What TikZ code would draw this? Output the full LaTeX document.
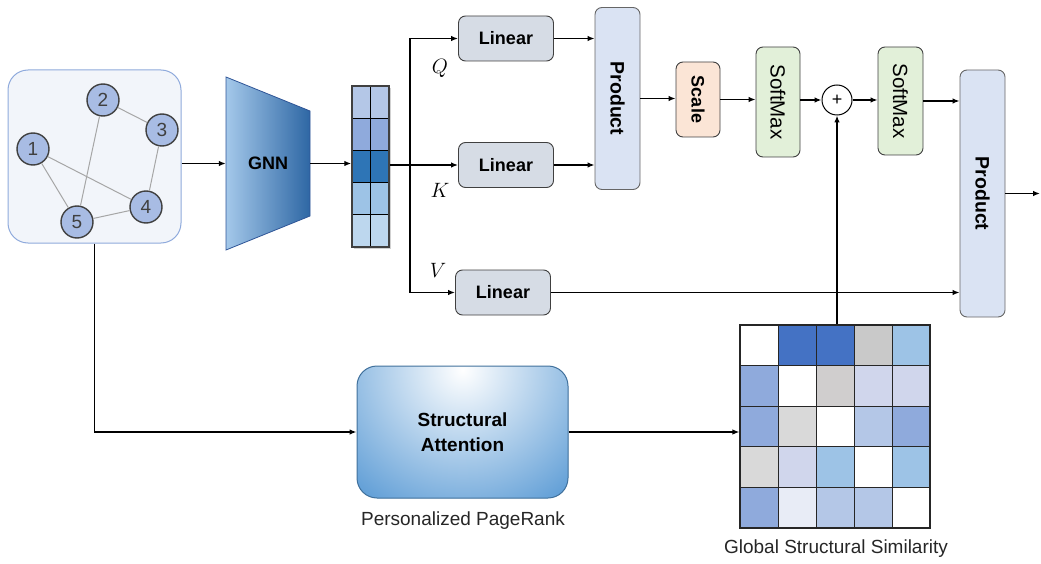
\documentclass[tikz,border=0pt]{standalone}
\usepackage{fontspec}
\setmainfont{Liberation Sans}
\usetikzlibrary{arrows.meta}

\definecolor{panelfill}{HTML}{F2F5FA}
\definecolor{panelline}{HTML}{8FAADC}
\definecolor{vertexfill}{HTML}{A8BCE4}
\definecolor{vertexline}{HTML}{404040}
\definecolor{edgegray}{HTML}{A6A6A6}
\definecolor{gnnleft}{HTML}{A4C8EA}
\definecolor{gnnright}{HTML}{2E67A4}
\definecolor{gnnline}{HTML}{2F5597}
\definecolor{boxline}{HTML}{404040}
\definecolor{linfill}{HTML}{D6DCE5}
\definecolor{prodfill}{HTML}{DAE3F3}
\definecolor{scalefill}{HTML}{FBE5D6}
\definecolor{smfill}{HTML}{E2F0D9}
\definecolor{sablue}{HTML}{5B9BD5}
\definecolor{saline}{HTML}{41719C}
\definecolor{captext}{HTML}{262626}
\definecolor{fA}{HTML}{B4C7E7}
\definecolor{fB}{HTML}{8FAADC}
\definecolor{fC}{HTML}{2E75B6}
\definecolor{fD}{HTML}{9DC3E6}
\definecolor{fE}{HTML}{BDD7EE}
\definecolor{mblue}{HTML}{4472C4}
\definecolor{mgray}{HTML}{C9C9C9}
\definecolor{msky}{HTML}{9DC3E6}
\definecolor{mpale}{HTML}{8FAADC}
\definecolor{mgrayb}{HTML}{D0CECE}
\definecolor{mgrayc}{HTML}{D9D9D9}
\definecolor{mlav}{HTML}{D0D6EC}
\definecolor{mlight}{HTML}{B4C7E7}
\definecolor{mwhite}{HTML}{E8ECF6}

\newcommand{\boxfont}{\fontsize{18}{21}\selectfont}

\begin{document}
\begin{tikzpicture}[x=1pt, y=-1pt,
    vertex/.style={circle, draw=vertexline, fill=vertexfill, line width=1.4pt, minimum size=32pt, inner sep=0pt, text=vertexline, font=\fontsize{19}{19}\selectfont},
    gedge/.style={draw=edgegray, line width=1pt},
    linbox/.style={draw=boxline, fill=linfill, rounded corners=7pt, line width=0.9pt, minimum width=95pt, minimum height=45pt, font=\boxfont\bfseries},
    tallbox/.style={draw=boxline, rounded corners=7pt, line width=0.9pt, minimum width=45pt, inner sep=0pt, font=\fontsize{19.5}{21}\selectfont},
    flow/.style={-{Latex[length=7pt, width=5.5pt]}, line width=1.3pt},
    undertext/.style={font=\fontsize{19}{21}\selectfont, text=captext}
]
\useasboundingbox (0,0) rectangle (1041,564);

% Input graph
\node[draw=panelline, fill=panelfill, rounded corners=20pt, line width=1pt, minimum width=173pt, minimum height=173pt] (panel) at (94.5,156.5) {};
\node[vertex] (n1) at (33,149) {1};
\node[vertex] (n2) at (103,100) {2};
\node[vertex] (n3) at (162,130) {3};
\node[vertex] (n4) at (146,207) {4};
\node[vertex] (n5) at (77,222) {5};
\draw[gedge] (n2) -- (n3);
\draw[gedge] (n2) -- (n5);
\draw[gedge] (n1) -- (n5);
\draw[gedge] (n1) -- (n4);
\draw[gedge] (n3) -- (n4);
\draw[gedge] (n4) -- (n5);

% GNN encoder
\shade[left color=gnnleft, right color=gnnright, draw=gnnline, line width=0.8pt] (226,77) -- (310,111) -- (310,216) -- (226,250) -- cycle;
\node[minimum width=84pt, minimum height=173pt, inner sep=0pt, font=\boxfont\bfseries] (gnn) at (268,163.5) {GNN};

% Node features
\fill[black!18] (353.5,88) rectangle (391,249);
\foreach \cc [count=\k from 0] in {fA,fB,fC,fD,fE}
  \fill[\cc] (352,86+32.2*\k) rectangle ++(37,32.2);
\foreach \k in {1,...,4}
  \draw[line width=0.8pt] (352,86+32.2*\k) -- ++(37,0);
\draw[line width=0.8pt] (370.5,86) -- (370.5,247);
\node[draw=boxline, line width=1.5pt, minimum width=37pt, minimum height=161pt, inner sep=0pt] (feat) at (370.5,166.5) {};

% Projections
\node[linbox] (linq) at (506,38.5) {Linear};
\node[linbox] (link) at (506,165) {Linear};
\node[linbox] (linv) at (503,292.5) {Linear};
\node[font=\fontsize{21}{21}\selectfont] (lq) at (440,68) {$Q$};
\node[font=\fontsize{21}{21}\selectfont] (lk) at (440,190) {$K$};
\node[font=\fontsize{21}{21}\selectfont] (lv) at (438,270) {$V$};

% Attention
\node[tallbox, fill=prodfill, draw=boxline!80, minimum height=182pt] (prod1) at (617.5,98.5) {\rotatebox{-90}{\bfseries Product}};
\node[tallbox, fill=scalefill, minimum width=44pt, minimum height=75pt, font=\boxfont] (scale) at (698,99.5) {\rotatebox{-90}{\bfseries Scale}};
\node[tallbox, fill=smfill, minimum width=44pt, minimum height=110pt, font=\fontsize{20.5}{21}\selectfont] (sm1) at (778,102) {\rotatebox{-90}{SoftMax}};
\node[circle, draw, line width=1pt, fill=white, minimum size=30pt, inner sep=0pt, font=\fontsize{18}{18}\selectfont] (plus) at (837,100) {+};
\node[tallbox, fill=smfill, minimum height=108pt, font=\fontsize{20.5}{21}\selectfont] (sm2) at (900.5,101) {\rotatebox{-90}{SoftMax}};
\node[tallbox, fill=prodfill, draw=boxline!80, minimum height=247pt] (prod2) at (982.5,193.5) {\rotatebox{-90}{\bfseries Product}};

% Structural branch
\node[draw=saline, line width=1pt, rounded corners=20pt, fill=sablue, minimum width=211pt, minimum height=132pt, align=center, font=\fontsize{19}{25}\selectfont\bfseries,
  path picture={\shade[inner color=white, outer color=sablue] ([yshift=-4pt]path picture bounding box.north) circle (165pt);}] (sa) at (462.5,432) {Structural\\Attention};
\node[undertext] (pprlabel) at (463,521) {Personalized PageRank};

% Similarity matrix
\foreach \cc [count=\k from 0] in {white,mblue,mblue,mgray,msky,
    mpale,white,mgrayb,mlav,mlav,
    mpale,mgrayc,white,mlight,mpale,
    mgrayc,mlav,msky,white,msky,
    mpale,mwhite,mlight,mlight,white}{
  \pgfmathtruncatemacro{\cx}{mod(\k,5)}
  \pgfmathtruncatemacro{\cy}{div(\k,5)}
  \fill[\cc] (740+38*\cx,325+40.6*\cy) rectangle ++(38,40.6);
}
\foreach \k in {1,...,4}{
  \draw[line width=1pt, captext] (740+38*\k,325) -- ++(0,203);
  \draw[line width=1pt, captext] (740,325+40.6*\k) -- ++(190,0);
}
\node[draw=captext, line width=1.2pt, minimum width=190pt, minimum height=203pt, inner sep=0pt] (sim) at (835,426.5) {};
\node[undertext] (simlabel) at (836,549) {Global Structural Similarity};

% Connections
\coordinate (br) at (410,165);
\coordinate (out) at (1040,193.5);
\draw[flow] (panel.east |- gnn) -- (gnn.west);
\draw[flow] (gnn.east) -- (gnn.east -| feat.west);
\draw[line width=1.3pt] (feat.east |- br) -- (br);
\draw[flow] (br) |- (linq.west);
\draw[flow] (br) -- (link.west);
\draw[flow] (br) |- (linv.west);
\draw[flow] (linq.east) -- (linq.east -| prod1.west);
\draw[flow] (link.east) -- (link.east -| prod1.west);
\draw[flow] (prod1.east) -- (prod1.east -| scale.west);
\draw[flow] (scale.east) -- (scale.east -| sm1.west);
\draw[flow] (sm1.east |- plus) -- (plus.west);
\draw[flow] (plus.east) -- (plus.east -| sm2.west);
\draw[flow] (sm2.east) -- (sm2.east -| prod2.west);
\draw[flow] (linv.east) -- (linv.east -| prod2.west);
\draw[flow] (prod2.east) -- (out);
\draw[flow] (plus |- sim.north) -- (plus.south);
\draw[flow] (panel.south) |- (sa.west);
\draw[flow] (sa.east) -- (sa.east -| sim.west);

\end{tikzpicture}
\end{document}
